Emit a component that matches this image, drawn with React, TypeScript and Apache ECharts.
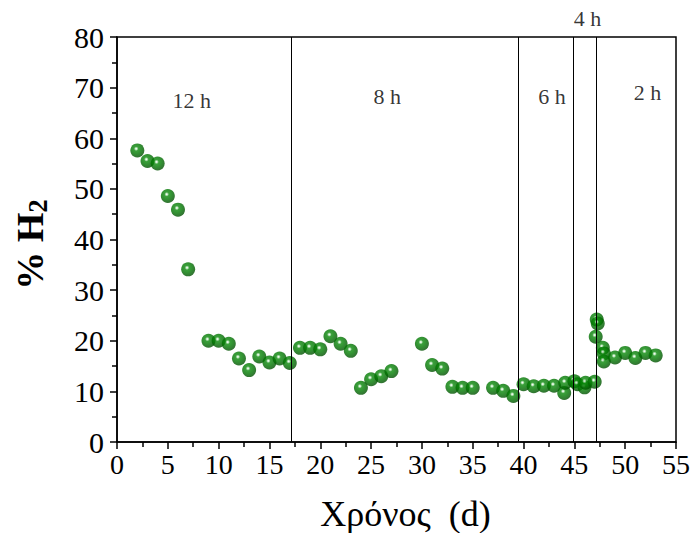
import React, { useEffect, useRef } from "react";
import * as echarts from "echarts";

const days = [2, 3, 4, 5, 6, 7, 9, 10, 11, 12, 13, 14, 15, 16, 17, 18, 19, 20, 21, 22, 23, 24, 25, 26, 27, 30, 31, 32, 33, 34, 35, 37, 38, 39, 40, 41, 42, 43, 44, 44.1, 45, 45.3, 46, 46.1, 47, 47.2, 47.3, 47.1, 47.8, 47.9, 47.9, 49, 50, 51, 52, 53];
const h2 = [57.6, 55.5, 55.0, 48.6, 45.9, 34.1, 20.0, 20.0, 19.4, 16.5, 14.2, 16.9, 15.7, 16.5, 15.6, 18.6, 18.6, 18.3, 20.9, 19.4, 18.0, 10.7, 12.4, 13.0, 14.0, 19.4, 15.2, 14.5, 10.9, 10.7, 10.7, 10.7, 10.1, 9.1, 11.4, 11.0, 11.1, 11.1, 9.7, 11.7, 12.0, 11.4, 10.8, 11.7, 11.9, 24.2, 23.4, 20.8, 18.6, 17.5, 15.9, 16.7, 17.6, 16.6, 17.6, 17.1];

const phaseBoundaries = [17.15, 39.5, 44.9, 47.2];
const phaseLabels = ["12 h", "8 h", "6 h", "4 h", "2 h"];
const phaseLabelX = [7.35, 26.6, 42.8, 46.3, 52.2];
const phaseLabelY = [67.5, 68.3, 68.3, 83.7, 69.1];

const xTitle = "Χρόνος  (d)";

const serif = "Liberation Serif";

export default function App() {
  const ref = useRef<HTMLDivElement>(null);
  useEffect(() => {
    if (!ref.current) return;
    const chart = echarts.init(ref.current, null, { renderer: "svg" });
    const sphere = {
      type: "radial",
      x: 0.42,
      y: 0.38,
      r: 0.62,
      colorStops: [
        { offset: 0, color: "#ffffff" },
        { offset: 0.08, color: "#d0f0d0" },
        { offset: 0.26, color: "#0a880a" },
        { offset: 0.55, color: "#007800" },
        { offset: 1, color: "#005000" },
      ],
    };
    chart.setOption({
      animation: false,
      backgroundColor: "#fff",
      grid: {
        left: 117,
        right: 20,
        top: 37,
        bottom: 91,
        containLabel: false,
        outerBoundsMode: "none",
        show: true,
        borderColor: "#000",
        borderWidth: 1.5,
        backgroundColor: "transparent",
      },
      xAxis: {
        type: "value",
        min: 0,
        max: 55,
        interval: 5,
        axisLine: { show: true, onZero: false, lineStyle: { color: "#000", width: 1.5 } },
        axisTick: { show: true, inside: false, length: 7, lineStyle: { color: "#000", width: 1.5 } },
        minorTick: { show: true, splitNumber: 2, length: 5, lineStyle: { color: "#000", width: 1.5 } },
        splitLine: { show: false },
        axisLabel: { color: "#000", fontFamily: serif, fontSize: 28, margin: 8 },
        name: xTitle,
        nameLocation: "middle",
        nameGap: 54,
        nameTextStyle: { color: "#000", fontFamily: serif, fontSize: 36, padding: [0, 0, 0, 18] },
      },
      yAxis: {
        type: "value",
        min: 0,
        max: 80,
        interval: 10,
        axisLine: { show: true, onZero: false, lineStyle: { color: "#000", width: 1.5 } },
        axisTick: { show: true, inside: false, length: 7, lineStyle: { color: "#000", width: 1.5 } },
        minorTick: { show: true, splitNumber: 2, length: 5, lineStyle: { color: "#000", width: 1.5 } },
        splitLine: { show: false },
        axisLabel: { color: "#000", fontFamily: serif, fontSize: 30, margin: 13 },
        name: "% H{s|2}",
        nameLocation: "middle",
        nameRotate: 90,
        nameGap: 66,
        nameTextStyle: {
          color: "#000",
          fontFamily: serif,
          fontSize: 38,
          fontWeight: "bold",
          padding: [0, 10, 0, 0],
          rich: {
            s: { fontFamily: serif, fontSize: 27, fontWeight: "bold", padding: [16, 0, 0, 0] },
          },
        },
      },
      series: [
        {
          type: "scatter",
          data: days.map((d, i) => [d, h2[i]]),
          symbol: "circle",
          symbolSize: 14,
          itemStyle: { color: sphere as any },
          markLine: {
            silent: true,
            symbol: ["none", "none"],
            label: { show: false },
            lineStyle: { color: "#000", width: 1, type: "solid" },
            data: phaseBoundaries.map((x) => ({ xAxis: x })),
          },
          z: 3,
        },
        {
          type: "scatter",
          clip: false,
          symbolSize: 1,
          itemStyle: { color: "rgba(0,0,0,0)" },
          data: phaseLabels.map((n, i) => ({ name: n, value: [phaseLabelX[i], phaseLabelY[i]] })),
          label: {
            show: true,
            position: "inside",
            formatter: "{b}",
            color: "#000",
            fontFamily: serif,
            fontSize: 22,
          },
          z: 4,
        },
      ],
    });
    return () => chart.dispose();
  }, []);
  return (
    <div
      ref={ref}
      style={{ position: "absolute", left: 0, top: 0, width: 696, height: 533 }}
    />
  );
}
